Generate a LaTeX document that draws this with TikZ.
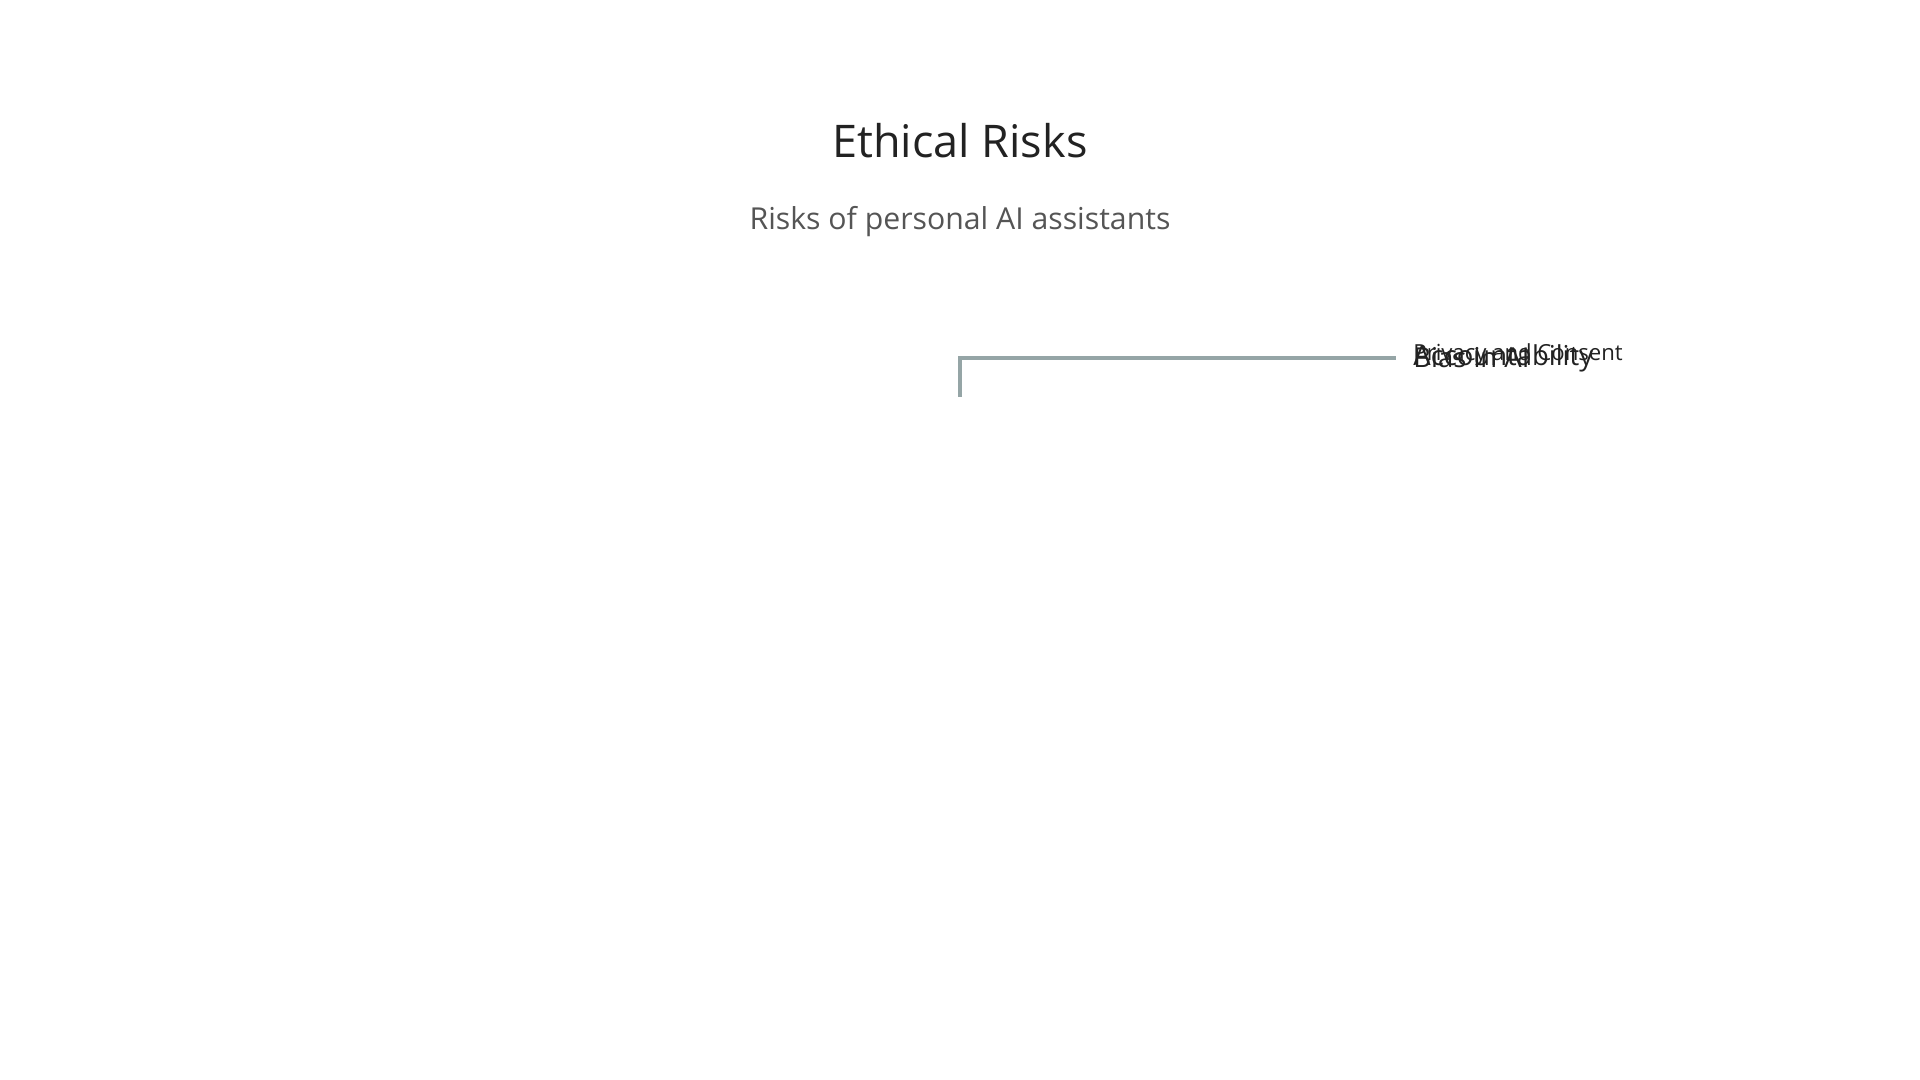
\documentclass[tikz,border=0pt]{standalone}
\usepackage{fontspec}
\setmainfont{Open Sans}
\definecolor{linkgray}{HTML}{95A5A6}
\definecolor{inkdark}{HTML}{222222}
\definecolor{subgray}{HTML}{555555}
\begin{document}
\begin{tikzpicture}[thick,
    risk/.style={anchor=west, inner sep=0pt, text=inkdark, font=\fontsize{7.8}{9}\selectfont},
    link/.style={draw=linkgray, line width=1.15pt}]
        \useasboundingbox[fill=white] (0,0) rectangle (19.2,10.8);
        \node[anchor=base, text=inkdark, font=\fontsize{12.8}{15}\selectfont] (title) at (9.6,9.22) {Ethical Risks};
        \node[anchor=base, text=subgray, font=\fontsize{8.6}{10}\selectfont] (sub) at (9.6,8.5) {Risks of personal AI assistants};
        % the three labels sit on top of each other
        \node[risk] (bias) at (14.12,7.22) {Bias in AI};
        \node[risk] (acc) at (14.12,7.22) {Accountability};
        \node[risk, font=\fontsize{6.3}{8}\selectfont] (priv) at (14.12,7.25) {Privacy and Consent};
        \coordinate (root) at (9.6,6.83);
        \draw[link, shorten >=0.16cm] (root) |- (bias.west);
    \end{tikzpicture}
\end{document}
